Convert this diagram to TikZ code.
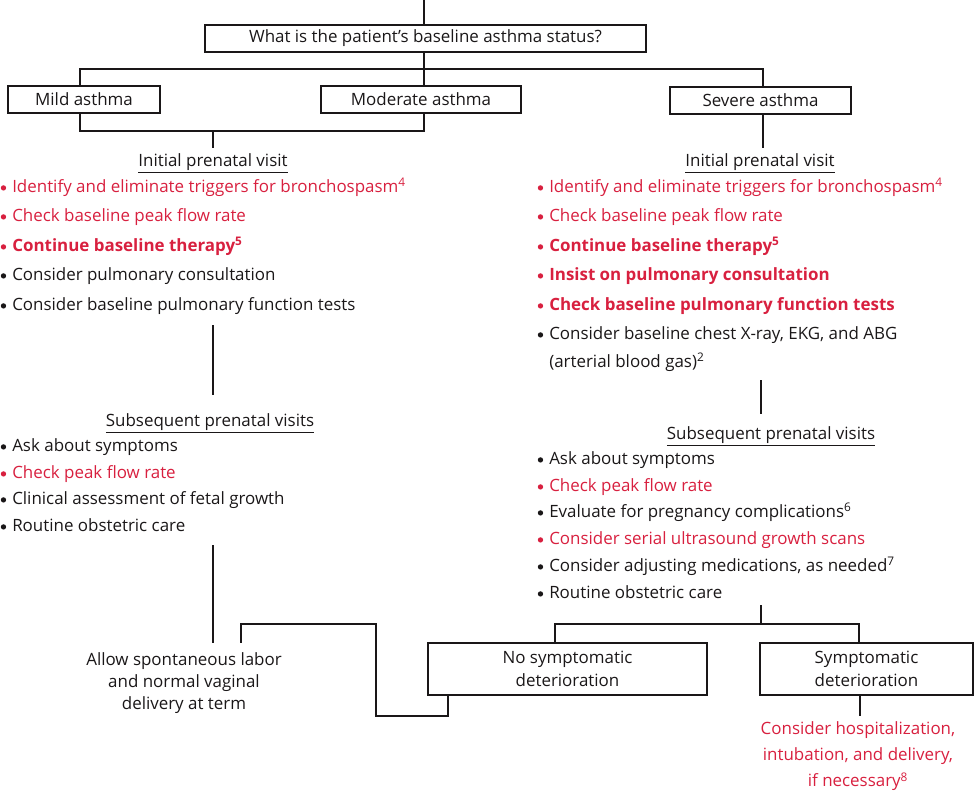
\documentclass[tikz,border=0pt]{standalone}
\usepackage{fontspec}
\setmainfont{Open Sans}
\definecolor{ink}{HTML}{1A1718}
\definecolor{alert}{HTML}{D8203F}
\newcommand{\fnref}[1]{\textsuperscript{#1}}
% round bullet hanging to the left of the item text
\newcommand{\bul}{\llap{\tikz[baseline={(0,-3.6pt)}]\fill (0,0) circle (2pt);\hspace{4.6pt}}}
\begin{document}
\begin{tikzpicture}[x=0.75pt,y=-0.75pt,
  every node/.style={font=\fontsize{12.7}{15}\selectfont, text=ink, inner sep=0pt},
  wire/.style={draw=ink, line width=0.9pt},
  box/.style={draw=ink, line width=0.9pt, minimum height=20.25pt, align=center},
  tallbox/.style={box, minimum height=39pt, font=\fontsize{12.7}{17.25}\selectfont},
  item/.style={anchor=mid west, yshift=-1.6pt},
  hot/.style={item, text=alert},
  hotbold/.style={item, text=alert, font=\fontsize{12.7}{15}\selectfont\bfseries},
  head/.style={anchor=mid, yshift=-1.6pt}]
\useasboundingbox (0,0) rectangle (974,790);

% decision boxes
\node[box, minimum width=330.75pt] (q) at (425.5,38.5) {What is the patient’s baseline asthma status?};
\node[box, minimum width=114pt] (mild) at (84,99.5) {Mild asthma};
\node[box, minimum width=150pt] (mod) at (421,99.5) {Moderate asthma};
\node[box, minimum width=135.75pt] (sev) at (760.5,100.5) {Severe asthma};

% entry line and branching
\coordinate (entry) at (424,0);
\coordinate (split) at (424,69);
\coordinate (lsplit) at (80,69);
\coordinate (rsplit) at (763,69);
\draw[wire] (entry) -- (entry |- q.north);
\draw[wire] (q.south -| split) -- (split |- mod.north);
\draw[wire] (lsplit |- mild.north) -- (lsplit) -- (rsplit) -- (rsplit |- sev.north);

% mild and moderate merge
\coordinate (mjoinL) at (80,131);
\coordinate (mjoinR) at (424,131);
\coordinate (mjoin) at (213,131);
\draw[wire] (mjoinL |- mild.south) -- (mjoinL) -- (mjoinR) -- (mjoinR |- mod.south);

% left column: initial visit
\node[head] (lh1) at (213,161) {\underline{Initial prenatal visit}};
\draw[wire] (mjoin) -- (213,148) coordinate (lh1top);
\node[hot] (l1) at (12,187) {\bul Identify and eliminate triggers for bronchospasm\fnref{4}};
\node[hot] (l2) at (12,216) {\bul Check baseline peak flow rate};
\node[hotbold] (l3) at (12,246) {\bul Continue baseline therapy\fnref{5}};
\node[item] (l4) at (12,275) {\bul Consider pulmonary consultation};
\node[item] (l5) at (12,305) {\bul Consider baseline pulmonary function tests};

\coordinate (lgap1a) at (213,325);
\coordinate (lgap1b) at (213,395);
\draw[wire] (lgap1a) -- (lgap1b);

% left column: subsequent visits
\node[head] (lh2) at (210,421) {\underline{Subsequent prenatal visits}};
\node[item] (m1) at (12,446) {\bul Ask about symptoms};
\node[hot] (m2) at (12,473) {\bul Check peak flow rate};
\node[item] (m3) at (12,499) {\bul Clinical assessment of fetal growth};
\node[item] (m4) at (12,526) {\bul Routine obstetric care};

\coordinate (lgap2a) at (213,545);
\node[align=center, font=\fontsize{12.7}{16.5}\selectfont] (labor) at (184,683)
  {Allow spontaneous labor\\and normal vaginal\\delivery at term};
\coordinate (lgap2b) at (213,643);
\draw[wire] (lgap2a) -- (lgap2b);

% right column: initial visit
\draw[wire] (sev.south -| rsplit) -- (763,148) coordinate (rh1top);
\node[head] (rh1) at (760,161) {\underline{Initial prenatal visit}};
\node[hot] (r1) at (549,187) {\bul Identify and eliminate triggers for bronchospasm\fnref{4}};
\node[hot] (r2) at (549,216) {\bul Check baseline peak flow rate};
\node[hotbold] (r3) at (549,246) {\bul Continue baseline therapy\fnref{5}};
\node[hotbold] (r4) at (549,275) {\bul Insist on pulmonary consultation};
\node[hotbold] (r5) at (549,305) {\bul Check baseline pulmonary function tests};
\node[item] (r6) at (549,334) {\bul Consider baseline chest X-ray, EKG, and ABG};
\node[item] (r6b) at (549,362) {(arterial blood gas)\fnref{2}};

\coordinate (rgap1a) at (761,380);
\coordinate (rgap1b) at (761,414);
\draw[wire] (rgap1a) -- (rgap1b);

% right column: subsequent visits
\node[head] (rh2) at (771,434) {\underline{Subsequent prenatal visits}};
\node[item] (s1) at (549,459) {\bul Ask about symptoms};
\node[hot] (s2) at (549,486) {\bul Check peak flow rate};
\node[item] (s3) at (549,512) {\bul Evaluate for pregnancy complications\fnref{6}};
\node[hot] (s4) at (549,539) {\bul Consider serial ultrasound growth scans};
\node[item] (s5) at (549,566) {\bul Consider adjusting medications, as needed\fnref{7}};
\node[item] (s6) at (549,593) {\bul Routine obstetric care};

% outcome boxes
\node[tallbox, minimum width=209.25pt] (nosym) at (567.5,669) {No symptomatic\\deterioration};
\node[tallbox, minimum width=159.75pt] (sym) at (866.5,669) {Symptomatic\\deterioration};

\coordinate (rsplit2) at (761,605);
\coordinate (osplit) at (761,624);
\coordinate (osplitL) at (555,624);
\coordinate (osplitR) at (859,624);
\draw[wire] (rsplit2) -- (osplit);
\draw[wire] (osplitL |- nosym.north) -- (osplitL) -- (osplitR) -- (osplitR |- sym.north);

% route back to spontaneous labor
\coordinate (back1) at (448,716);
\coordinate (back2) at (376,716);
\coordinate (back3) at (376,624);
\coordinate (back4) at (241,624);
\coordinate (back5) at (241,643);
\draw[wire] (back1 |- nosym.south) -- (back1) -- (back2) -- (back3) -- (back4) -- (back5);

% escalation
\coordinate (esc) at (860,716);
\draw[wire] (esc |- sym.south) -- (esc);
\node[align=center, text=alert, font=\fontsize{12.7}{19.8}\selectfont] (hosp) at (858,756)
  {Consider hospitalization,\\intubation, and delivery,\\if necessary\fnref{8}};
\end{tikzpicture}
\end{document}
